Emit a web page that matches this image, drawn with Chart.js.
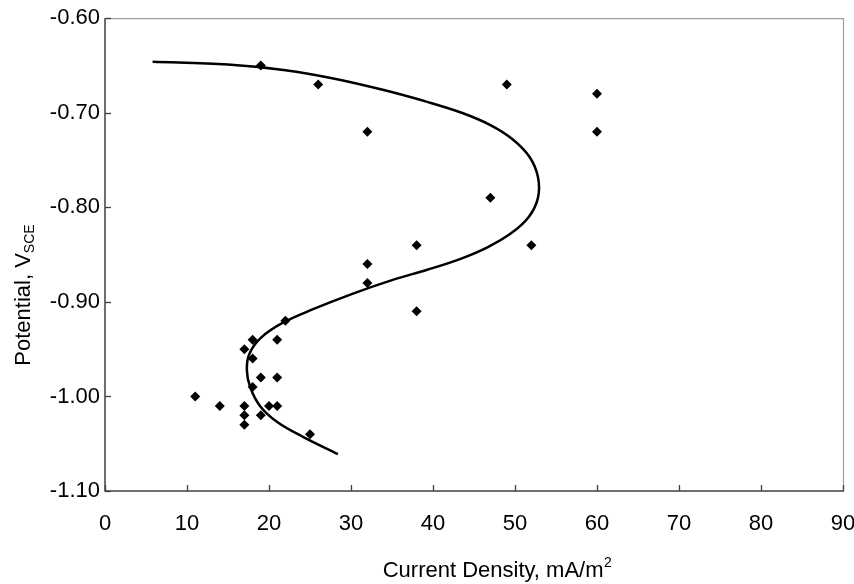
<!DOCTYPE html>
<html>
<head>
<meta charset="utf-8">
<script src="https://cdn.jsdelivr.net/npm/chart.js@4/dist/chart.umd.min.js"></script>
<style>
  html, body { margin: 0; padding: 0; background: #fff; }
  #wrap { width: 854px; height: 584px; position: relative; }
</style>
</head>
<body>
<div id="wrap"><canvas id="c" width="854" height="584"></canvas></div>
<script>
// Measured data points (current density mA/m², potential V_SCE)
const pointX = [19, 26, 32, 49, 60, 60, 47, 52, 38, 32, 32, 38,
                22, 18, 21, 17, 18, 19, 21, 18, 11, 14, 17, 20, 21, 17, 19, 17, 25];
const pointY = [-0.65, -0.67, -0.72, -0.67, -0.68, -0.72, -0.79, -0.84, -0.84, -0.86, -0.88, -0.91,
                -0.92, -0.94, -0.94, -0.95, -0.96, -0.98, -0.98, -0.99, -1.00, -1.01, -1.01, -1.01, -1.01, -1.02, -1.02, -1.03, -1.04];

// Fitted curve
const curveX = [5.8, 15, 22, 28, 34, 39.5, 43.5, 47.0, 49.7, 51.8, 52.8, 52.8, 51.7, 49.6, 46.7, 43.2, 39.3, 35, 30, 25.3, 21.7, 19.0, 17.6, 17.3, 17.7, 18.9, 21.0, 24.2, 28.4];
const curveY = [-0.646, -0.649, -0.655, -0.664, -0.676, -0.689, -0.700, -0.713, -0.728, -0.747, -0.768, -0.790, -0.810, -0.827, -0.842, -0.855, -0.866, -0.877, -0.892, -0.908, -0.922, -0.938, -0.955, -0.972, -0.990, -1.010, -1.027, -1.043, -1.061];

// Axis settings
const xMin = 0, xMax = 90, xStep = 10;
const yMin = -1.10, yMax = -0.60, yStep = 0.10;
const xTitleMain = 'Current Density, mA/m';
const xTitleSup = '2';
const yTitleMain = 'Potential, V';
const yTitleSub = 'SCE';

const FONT = '"Liberation Sans", Arial, sans-serif';

const frameAndTitles = {
  id: 'frameAndTitles',
  afterDraw(chart) {
    const ctx = chart.ctx;
    const a = chart.chartArea;
    const xs = chart.scales.x, ys = chart.scales.y;
    ctx.save();
    // top & right frame (light gray)
    ctx.strokeStyle = '#a0a0a0';
    ctx.lineWidth = 1.2;
    ctx.beginPath();
    ctx.moveTo(a.left, a.top + 0.5);
    ctx.lineTo(a.right + 0.5, a.top + 0.5);
    ctx.lineTo(a.right + 0.5, a.bottom);
    ctx.stroke();
    // left & bottom axis lines (dark)
    ctx.strokeStyle = '#404040';
    ctx.lineWidth = 1.5;
    ctx.beginPath();
    ctx.moveTo(a.left, a.top);
    ctx.lineTo(a.left, a.bottom);
    ctx.lineTo(a.right + 1, a.bottom);
    ctx.stroke();
    // inward ticks
    ctx.lineWidth = 1.3;
    xs.ticks.forEach(t => {
      const px = Math.round(xs.getPixelForValue(t.value)) + 0.5;
      ctx.beginPath(); ctx.moveTo(px, a.bottom); ctx.lineTo(px, a.bottom - 6); ctx.stroke();
    });
    ys.ticks.forEach(t => {
      const py = Math.round(ys.getPixelForValue(t.value)) + 0.5;
      ctx.beginPath(); ctx.moveTo(a.left, py); ctx.lineTo(a.left + 6, py); ctx.stroke();
    });
    // X title with superscript
    ctx.fillStyle = '#000';
    ctx.textBaseline = 'alphabetic';
    ctx.textAlign = 'left';
    ctx.font = '22px ' + FONT;
    const wMain = ctx.measureText(xTitleMain).width;
    ctx.font = '14px ' + FONT;
    const wSup = ctx.measureText(xTitleSup).width;
    const xCenter = (a.left + a.right) / 2 + 23;
    let sx = xCenter - (wMain + wSup) / 2;
    ctx.font = '22px ' + FONT;
    ctx.fillText(xTitleMain, sx, 577);
    ctx.font = '14px ' + FONT;
    ctx.fillText(xTitleSup, sx + wMain + 0.5, 567);
    // Y title with subscript (rotated)
    ctx.save();
    ctx.translate(30, 295);
    ctx.rotate(-Math.PI / 2);
    ctx.font = '22px ' + FONT;
    const wyMain = ctx.measureText(yTitleMain).width;
    ctx.font = '14px ' + FONT;
    const wySub = ctx.measureText(yTitleSub).width;
    let sy = -(wyMain + wySub) / 2;
    ctx.font = '22px ' + FONT;
    ctx.fillText(yTitleMain, sy, 0);
    ctx.font = '14px ' + FONT;
    ctx.fillText(yTitleSub, sy + wyMain, 4);
    ctx.restore();
    ctx.restore();
  }
};

new Chart(document.getElementById('c'), {
  type: 'scatter',
  data: {
    datasets: [
      {
        label: 'Measured',
        data: pointX.map((x, i) => ({ x: x, y: pointY[i] })),
        pointStyle: 'rectRot',
        pointRadius: 5,
        backgroundColor: '#000',
        borderColor: '#000',
        borderWidth: 0,
        showLine: false
      },
      {
        label: 'Fit',
        data: curveX.map((x, i) => ({ x: x, y: curveY[i] })),
        showLine: true,
        pointRadius: 0,
        borderColor: '#000',
        borderWidth: 2.5,
        tension: 0.35,
        fill: false
      }
    ]
  },
  options: {
    responsive: false,
    animation: false,
    devicePixelRatio: 1,
    layout: { padding: { left: 0, top: 17, right: 11, bottom: 0 } },
    plugins: { legend: { display: false }, tooltip: { enabled: false }, title: { display: false } },
    scales: {
      x: {
        type: 'linear',
        min: xMin, max: xMax,
        afterFit(s) { s.height = 93; s.paddingLeft = 0; s.paddingRight = 0; },
        border: { display: false },
        grid: { display: false, drawTicks: false },
        ticks: {
          stepSize: xStep,
          padding: 20,
          color: '#000',
          font: { family: FONT, size: 22 },
          maxRotation: 0
        }
      },
      y: {
        type: 'linear',
        min: yMin, max: yMax,
        afterFit(s) { s.width = 105; },
        border: { display: false },
        grid: { display: false, drawTicks: false },
        ticks: {
          stepSize: yStep,
          padding: 5,
          color: '#000',
          font: { family: FONT, size: 22 },
          callback: v => v.toFixed(2)
        }
      }
    }
  },
  plugins: [frameAndTitles]
});
</script>
</body>
</html>
